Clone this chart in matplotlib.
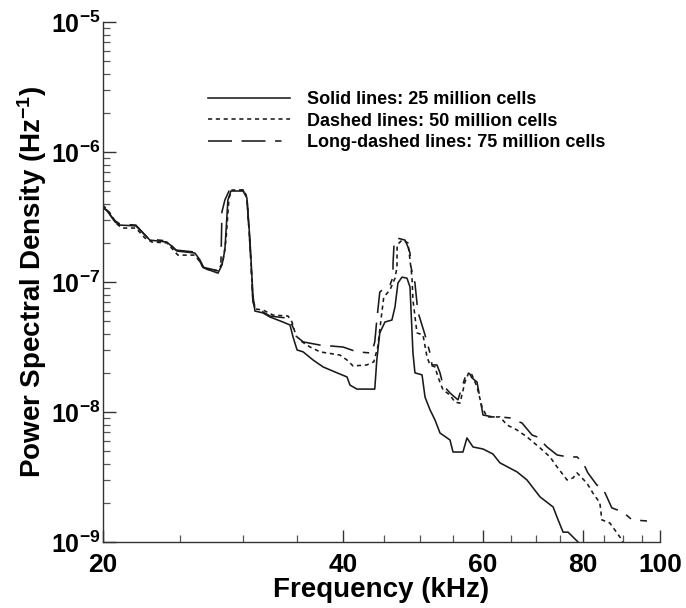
import matplotlib
matplotlib.use("Agg")
import matplotlib.pyplot as plt
from matplotlib.ticker import FixedLocator, NullFormatter, LogLocator

plt.rcParams['font.family'] = ['Liberation Sans', 'DejaVu Sans']
plt.rcParams['font.weight'] = 'bold'
plt.rcParams['mathtext.fontset'] = 'custom'
plt.rcParams['mathtext.rm'] = 'Liberation Sans:bold'
plt.rcParams['mathtext.bf'] = 'Liberation Sans:bold'
plt.rcParams['mathtext.default'] = 'bf'

# Frequency (kHz) and PSD (1/Hz) for the three grid resolutions
freq_25m = [20.0, 20.29, 20.71, 21.01, 22.0, 22.45, 22.91, 24.06, 24.77, 26.09,
            26.47, 26.78, 27.89, 28.21, 28.45, 28.70, 28.95, 29.98, 30.32, 30.59,
            30.85, 31.03, 31.76, 32.41, 33.65, 34.34, 34.64, 35.05, 35.67, 36.71,
            37.79, 39.34, 40.49, 40.84, 41.67, 43.87, 44.13, 44.51, 45.18, 46.10,
            46.51, 46.91, 47.46, 48.15, 48.57, 48.99, 49.27, 50.29, 50.73, 51.46,
            52.21, 52.97, 54.52, 55.0, 56.6, 57.26, 58.27, 59.98, 61.72, 62.99,
            66.17, 68.10, 70.73, 73.44, 74.51, 75.59, 76.69, 78.92, 80.1]
psd_25m = [3.78e-7, 3.46e-7, 2.90e-7, 2.74e-7, 2.70e-7, 2.38e-7, 2.10e-7, 2.03e-7, 1.73e-7, 1.67e-7,
           1.48e-7, 1.28e-7, 1.17e-7, 1.35e-7, 1.76e-7, 4.27e-7, 5.01e-7, 5.01e-7, 4.43e-7, 2.10e-7,
           7.94e-8, 5.98e-8, 5.78e-8, 5.38e-8, 4.92e-8, 4.67e-8, 3.78e-8, 3.00e-8, 2.90e-8, 2.51e-8,
           2.22e-8, 2.00e-8, 1.86e-8, 1.61e-8, 1.50e-8, 1.50e-8, 2.51e-8, 4.06e-8, 4.92e-8, 5.10e-8,
           6.43e-8, 9.82e-8, 1.09e-7, 1.07e-7, 9.16e-8, 2.84e-8, 2.00e-8, 1.93e-8, 1.30e-8, 1.04e-8,
           8.68e-9, 6.89e-9, 6.09e-9, 4.92e-9, 4.92e-9, 6.31e-9, 5.38e-9, 5.19e-9, 4.75e-9, 4.06e-9,
           3.46e-9, 3.00e-9, 2.22e-9, 1.86e-9, 1.48e-9, 1.19e-9, 1.19e-9, 1.00e-9, 0.90e-9]

freq_50m = [20.0, 20.41, 20.83, 21.13, 22.0, 22.58, 23.04, 24.06, 24.84, 26.09,
            26.47, 26.78, 27.89, 28.29, 28.54, 28.79, 29.04, 30.06, 30.32, 30.67,
            30.85, 31.12, 31.76, 32.69, 34.14, 34.54, 34.94, 35.57, 36.39, 37.46,
            39.68, 40.49, 41.20, 42.86, 43.75, 44.25, 44.77, 45.03, 45.84, 46.51,
            46.78, 46.80, 47.46, 48.29, 48.57, 48.85, 48.99, 49.56, 50.43, 51.02,
            51.46, 52.21, 52.66, 53.43, 54.52, 55.31, 56.12, 56.93, 57.59, 58.09,
            58.95, 59.81, 60.68, 62.99, 64.29, 66.17, 68.10, 70.73, 72.79, 74.29,
            76.47, 77.80, 78.70, 80.97, 82.39, 84.06, 84.55, 86.52, 89.10, 90.13]
psd_50m = [3.91e-7, 3.40e-7, 2.79e-7, 2.60e-7, 2.60e-7, 2.18e-7, 2.03e-7, 2.00e-7, 1.61e-7, 1.61e-7,
           1.43e-7, 1.26e-7, 1.22e-7, 1.43e-7, 2.10e-7, 4.43e-7, 5.10e-7, 5.10e-7, 4.51e-7, 1.48e-7,
           7.27e-8, 6.19e-8, 6.09e-8, 5.57e-8, 5.47e-8, 4.92e-8, 3.85e-8, 3.46e-8, 3.16e-8, 2.90e-8,
           2.74e-8, 2.51e-8, 2.26e-8, 2.30e-8, 2.43e-8, 3.16e-8, 5.78e-8, 7.67e-8, 8.68e-8, 1.07e-7,
           1.30e-7, 1.93e-7, 2.10e-7, 2.00e-7, 1.48e-7, 1.09e-7, 7.27e-8, 4.06e-8, 3.91e-8, 2.65e-8,
           2.30e-8, 2.22e-8, 1.86e-8, 1.48e-8, 1.35e-8, 1.19e-8, 1.17e-8, 1.70e-8, 2.03e-8, 1.93e-8,
           1.56e-8, 1.09e-8, 9.16e-9, 9.16e-9, 7.94e-9, 7.27e-9, 6.43e-9, 5.29e-9, 4.51e-9, 3.78e-9,
           3.00e-9, 3.11e-9, 3.40e-9, 2.84e-9, 2.38e-9, 2.00e-9, 1.48e-9, 1.40e-9, 1.09e-9, 0.95e-9]

freq_75m = [20.0, 20.23, 20.65, 21.01, 22.0, 22.84, 24.06, 24.70, 26.09, 26.70,
            27.89, 28.13, 28.21, 28.45, 28.79, 29.98, 30.32, 30.59, 30.85, 31.12,
            31.76, 32.41, 34.04, 34.54, 35.05, 35.67, 37.46, 40.03, 41.67, 43.49,
            43.87, 44.13, 44.51, 45.18, 45.84, 46.24, 46.25, 46.38, 46.78, 47.88,
            48.29, 48.57, 48.71, 49.27, 49.56, 49.70, 50.73, 51.46, 51.76, 52.51,
            52.97, 53.43, 54.52, 55.79, 56.93, 57.43, 58.09, 58.95, 59.98, 61.72,
            62.99, 64.86, 67.14, 69.11, 70.11, 72.17, 74.29, 76.69, 78.70, 80.1,
            81.21, 83.34, 84.79, 87.02, 89.87, 92.24, 96.33]
psd_75m = [3.71e-7, 3.58e-7, 3.00e-7, 2.79e-7, 2.74e-7, 2.14e-7, 2.07e-7, 1.76e-7, 1.70e-7, 1.30e-7,
           1.22e-7, 1.43e-7, 3.46e-7, 4.27e-7, 5.01e-7, 5.10e-7, 4.43e-7, 1.93e-7, 7.02e-8, 5.98e-8,
           5.88e-8, 5.47e-8, 5.28e-8, 4.67e-8, 3.78e-8, 3.46e-8, 3.27e-8, 3.16e-8, 2.90e-8, 2.84e-8,
           3.46e-8, 5.10e-8, 8.37e-8, 9.00e-8, 9.48e-8, 1.09e-7, 1.40e-7, 1.93e-7, 2.18e-7, 2.10e-7,
           1.86e-7, 1.67e-7, 1.30e-7, 9.82e-8, 6.89e-8, 5.88e-8, 3.91e-8, 2.84e-8, 2.30e-8, 2.30e-8,
           2.00e-8, 1.61e-8, 1.40e-8, 1.24e-8, 1.83e-8, 2.07e-8, 1.83e-8, 1.70e-8, 9.48e-9, 9.16e-9,
           9.16e-9, 9.00e-9, 8.22e-9, 6.65e-9, 6.43e-9, 5.38e-9, 4.67e-9, 4.51e-9, 4.51e-9, 4.06e-9,
           3.40e-9, 2.74e-9, 2.60e-9, 1.83e-9, 1.70e-9, 1.48e-9, 1.45e-9]

labels = ["Solid lines: 25 million cells",
          "Dashed lines: 50 million cells",
          "Long-dashed lines: 75 million cells"]

x_major = [20, 40, 60, 80, 100]
x_minor = [25, 30, 35, 45, 50, 55, 65, 70, 75, 85, 90, 95]

fig = plt.figure(figsize=(6.86, 6.08), dpi=100)
ax = fig.add_axes([0.150, 0.1086, 0.812, 0.8552])

line_color = '#1a1a1a'
ax.plot(freq_25m, psd_25m, color=line_color, lw=1.15, linestyle='-', label=labels[0])
ax.plot(freq_50m, psd_50m, color=line_color, lw=1.15, linestyle=(0, (2.6, 2.3)), label=labels[1])
ax.plot(freq_75m, psd_75m, color=line_color, lw=1.15, linestyle=(0, (15, 6, 15, 6, 4, 6)), label=labels[2])

ax.set_xscale('log')
ax.set_yscale('log')
ax.set_xlim(20, 100)
ax.set_ylim(1e-9, 1e-5)

ax.xaxis.set_major_locator(FixedLocator(x_major))
ax.xaxis.set_minor_locator(FixedLocator(x_minor))
ax.set_xticklabels([str(v) for v in x_major])
ax.xaxis.set_minor_formatter(NullFormatter())

ax.yaxis.set_major_locator(FixedLocator([1e-9, 1e-8, 1e-7, 1e-6, 1e-5]))
ax.yaxis.set_minor_locator(LogLocator(base=10, subs=range(2, 10), numticks=20))
ax.yaxis.set_minor_formatter(NullFormatter())
ax.set_yticklabels([r'$\mathbf{10^{-9}}$', r'$\mathbf{10^{-8}}$', r'$\mathbf{10^{-7}}$',
                    r'$\mathbf{10^{-6}}$', r'$\mathbf{10^{-5}}$'])

ax.spines['top'].set_visible(False)
ax.spines['right'].set_visible(False)
for s in ('left', 'bottom'):
    ax.spines[s].set_linewidth(1.0)
    ax.spines[s].set_color('#333333')

ax.tick_params(which='major', direction='in', length=9, width=1.0, color='#333333')
ax.tick_params(axis='y', which='major', pad=2, labelsize=18)
ax.tick_params(axis='x', which='major', pad=8, labelsize=19)
ax.tick_params(which='minor', direction='in', length=5, width=0.9, color='#555555')
for lab in ax.get_xticklabels() + ax.get_yticklabels():
    lab.set_fontweight('bold')

ax.set_xlabel('Frequency (kHz)', fontsize=20, fontweight='bold', labelpad=0)
ax.set_ylabel(r'Power Spectral Density (Hz$^{\mathbf{-1}}$)', fontsize=20,
              fontweight='bold', labelpad=1)

leg = ax.legend(loc='upper left', bbox_to_anchor=(0.16, 0.898), frameon=False,
                handlelength=4.5, handletextpad=0.95, labelspacing=0.25,
                prop={'size': 13, 'weight': 'bold'})

fig.savefig('out.png', dpi=100)
